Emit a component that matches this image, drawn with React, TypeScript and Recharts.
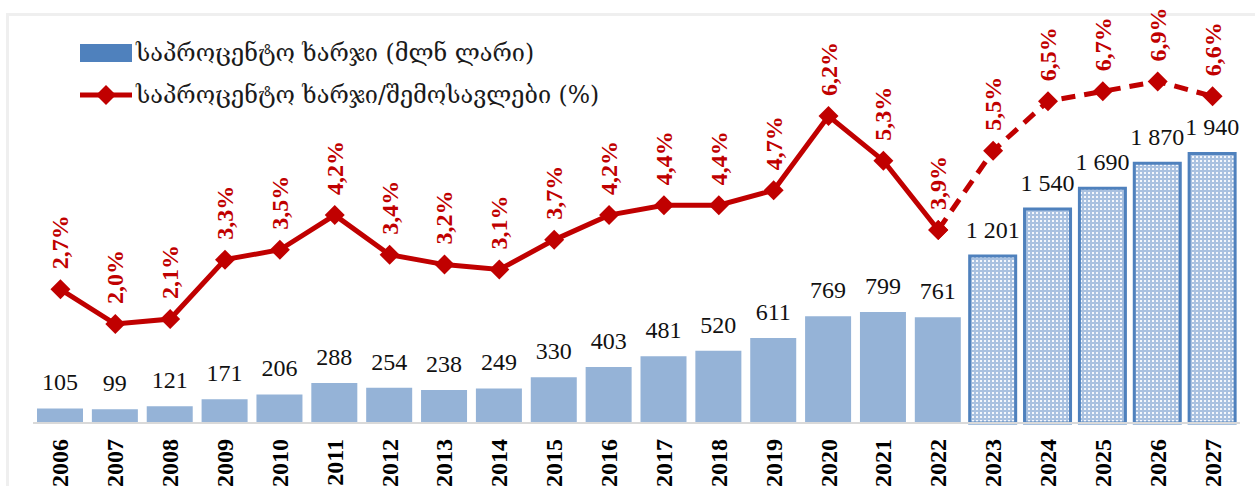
import React from 'react';
import { ComposedChart, Bar, Line, XAxis, YAxis, Legend, LabelList, Cell } from 'recharts';

const YEARS = [
  '2006', '2007', '2008', '2009', '2010', '2011', '2012', '2013', '2014', '2015', '2016',
  '2017', '2018', '2019', '2020', '2021', '2022', '2023', '2024', '2025', '2026', '2027',
];
// interest expense, mln GEL
const EXPENSE = [105, 99, 121, 171, 206, 288, 254, 238, 249, 330, 403, 481, 520, 611, 769, 799, 761, 1201, 1540, 1690, 1870, 1940];
// interest expense / revenues, %
const RATIO = [2.7, 2.0, 2.1, 3.3, 3.5, 4.2, 3.4, 3.2, 3.1, 3.7, 4.2, 4.4, 4.4, 4.7, 6.2, 5.3, 3.9, 5.5, 6.5, 6.7, 6.9, 6.6];
const LAST_ACTUAL = '2022';
const LEGEND_LABELS = ['საპროცენტო ხარჯი (მლნ ლარი)', 'საპროცენტო ხარჯი/შემოსავლები (%)'];

const RED = '#C00000';
const BAR_BLUE = '#95B3D7';
const EDGE_BLUE = '#4F81BD';
const SERIF = "'Liberation Serif', 'Times New Roman', serif";

const rows = YEARS.map((year, i) => {
  const forecast = year > LAST_ACTUAL;
  return {
    year,
    expense: EXPENSE[i],
    projected: forecast,
    actual: forecast ? null : RATIO[i],
    forecast: year >= LAST_ACTUAL ? RATIO[i] : null,
    forecastLabel: forecast ? RATIO[i] : null,
  };
});

const fmtPct = (v: number) => v.toFixed(1).replace('.', ',') + '%';
const fmtNum = (v: number) => String(v).replace(/\B(?=(\d{3})+(?!\d))/g, ' ');

function Diamond(props: any) {
  const { cx, cy, index } = props;
  if (cx == null || cy == null) return <g key={index} />;
  const r = 10;
  return (
    <path
      key={index}
      d={`M${cx},${cy - r}L${cx + r},${cy}L${cx},${cy + r}L${cx - r},${cy}Z`}
      fill={RED}
    />
  );
}

function RatioLabel(props: any) {
  const { x, y, value } = props;
  if (value == null) return null;
  const ty = y - 20;
  return (
    <text
      x={x}
      y={ty}
      transform={`rotate(-90 ${x} ${ty})`}
      fill={RED}
      fontFamily={SERIF}
      fontWeight="bold"
      fontSize={24}
      textAnchor="start"
      dominantBaseline="central"
    >
      {fmtPct(value)}
    </text>
  );
}

function ExpenseLabel(props: any) {
  const { x, y, width, value } = props;
  return (
    <text x={x + width / 2} y={y - 18} fill="#111" fontFamily={SERIF} fontSize={24} textAnchor="middle">
      {fmtNum(value)}
    </text>
  );
}

function YearTick(props: any) {
  const { x, y, payload } = props;
  return (
    <text
      x={x}
      y={y}
      transform={`rotate(-90 ${x} ${y})`}
      fill="#000"
      fontFamily={SERIF}
      fontWeight="bold"
      fontSize={24}
      textAnchor="end"
      dominantBaseline="central"
    >
      {payload.value}
    </text>
  );
}

function LegendBox() {
  const text = { fontFamily: "'DejaVu Serif', 'DejaVu Sans', serif", fontSize: 23.5, color: '#1a1a1a', marginLeft: 4 };
  return (
    <div>
      <div style={{ display: 'flex', alignItems: 'center', height: 42 }}>
        <svg width={52} height={18}>
          <rect width={52} height={18} fill={EDGE_BLUE} />
        </svg>
        <span style={text}>{LEGEND_LABELS[0]}</span>
      </div>
      <div style={{ display: 'flex', alignItems: 'center', height: 42 }}>
        <svg width={52} height={22}>
          <line x1={0} y1={11} x2={52} y2={11} stroke={RED} strokeWidth={5} />
          <path d="M26,1L36,11L26,21L16,11Z" fill={RED} />
        </svg>
        <span style={text}>{LEGEND_LABELS[1]}</span>
      </div>
    </div>
  );
}

export default function App() {
  return (
    <div style={{ position: 'fixed', left: 0, top: 0, width: 1255, height: 486, overflow: 'hidden', background: '#fff' }}>
      <div
        style={{
          position: 'absolute', left: 6, top: 13, width: 1280, height: 500,
          border: '3px solid #EFEFEF', boxSizing: 'border-box',
        }}
      />
      <div style={{ position: 'absolute', left: 0, top: 0 }}>
        <ComposedChart width={1255} height={486} data={rows} margin={{ top: 27, right: 15, bottom: 0, left: 33 }}>
          <defs>
            <pattern id="dots" width="4" height="4" patternUnits="userSpaceOnUse">
              <rect width="4" height="4" fill="#A9C1E0" />
              <rect width="2" height="2" fill="#F4F7FC" />
            </pattern>
          </defs>
          <XAxis
            dataKey="year"
            interval={0}
            height={63}
            tickLine={false}
            tickMargin={10}
            axisLine={{ stroke: '#D9D9D9', strokeWidth: 2 }}
            tick={<YearTick />}
          />
          <YAxis yAxisId="left" hide domain={[0, 2850]} />
          <YAxis yAxisId="right" hide orientation="right" domain={[0, 8]} />
          <Legend
            layout="horizontal"
            verticalAlign="middle"
            align="center"
            content={<LegendBox />}
            wrapperStyle={{ left: 80, top: 32, width: 'auto', height: 'auto' }}
          />
          <Bar yAxisId="left" dataKey="expense" barSize={46} isAnimationActive={false}>
            {rows.map((r) => (
              <Cell
                key={r.year}
                fill={r.projected ? 'url(#dots)' : BAR_BLUE}
                stroke={r.projected ? EDGE_BLUE : 'none'}
                strokeWidth={r.projected ? 3 : 0}
              />
            ))}
            <LabelList dataKey="expense" content={<ExpenseLabel />} />
          </Bar>
          <Line
            yAxisId="right"
            dataKey="actual"
            stroke={RED}
            strokeWidth={5}
            dot={Diamond}
            activeDot={false}
            connectNulls={false}
            isAnimationActive={false}
          >
            <LabelList dataKey="actual" content={<RatioLabel />} />
          </Line>
          <Line
            yAxisId="right"
            dataKey="forecast"
            stroke={RED}
            strokeWidth={5}
            strokeDasharray="14 9"
            dot={Diamond}
            activeDot={false}
            isAnimationActive={false}
          >
            <LabelList dataKey="forecastLabel" content={<RatioLabel />} />
          </Line>
        </ComposedChart>
      </div>
    </div>
  );
}
